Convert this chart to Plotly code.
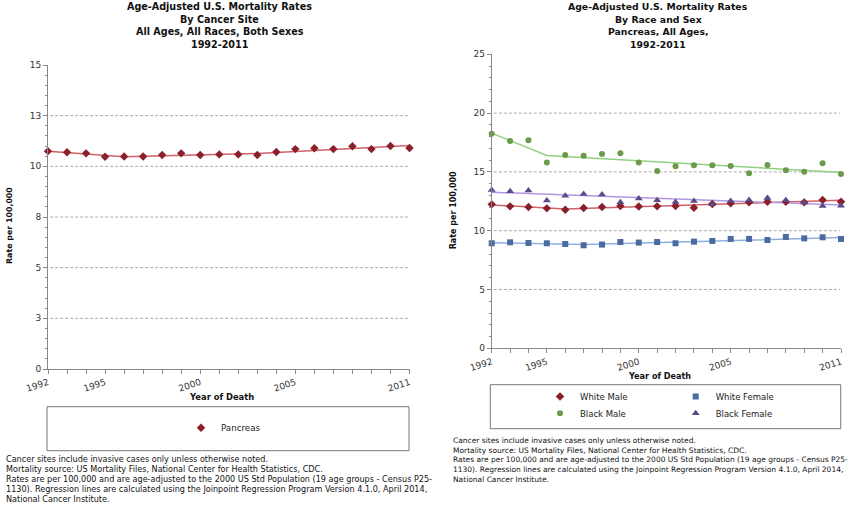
import plotly.graph_objects as go

W, H = 859, 512
FONT = "DejaVu Sans"

years = list(range(1992, 2012))

# Left chart: all races, both sexes, pancreas
pancreas = [10.75, 10.69, 10.64, 10.47, 10.49, 10.49, 10.56, 10.64, 10.56, 10.59,
            10.59, 10.56, 10.71, 10.85, 10.89, 10.85, 10.99, 10.85, 11.00, 10.90]
pancreas_fit_years = [1992, 1996, 2003, 2011]
pancreas_fit = [10.75, 10.47, 10.63, 11.03]

# Right chart: by race and sex
white_male = [12.24, 12.07, 12.02, 11.90, 11.79, 11.93, 12.02, 12.10, 12.05, 12.07,
              12.10, 11.96, 12.27, 12.33, 12.41, 12.47, 12.47, 12.41, 12.61, 12.47]
white_female = [8.93, 9.01, 8.96, 8.93, 8.87, 8.76, 8.82, 9.04, 8.99, 9.04,
                8.93, 9.07, 9.13, 9.30, 9.30, 9.21, 9.47, 9.35, 9.44, 9.30]
black_male = [18.25, 17.63, 17.69, 15.79, 16.44, 16.38, 16.52, 16.58, 15.79, 15.08,
              15.48, 15.56, 15.56, 15.50, 14.88, 15.59, 15.14, 15.02, 15.73, 14.82]
black_female = [13.46, 13.35, 13.41, 12.56, 12.98, 13.12, 13.07, 12.41, 12.73, 12.59,
                12.44, 12.53, 12.24, 12.53, 12.61, 12.78, 12.59, 12.39, 12.10, 12.13]

wm_fit_years, wm_fit = [1992, 1996, 2011], [12.19, 11.85, 12.58]
wf_fit_years, wf_fit = [1992, 1997, 2011], [8.98, 8.82, 9.42]
bm_fit_years, bm_fit = [1992, 1995, 2011], [18.30, 16.40, 14.95]
bf_fit_years, bf_fit = [1992, 2011], [13.27, 12.19]

x_tick_years = [1992, 1995, 2000, 2005, 2011]
left_y_tickvals = [0, 2.5, 5, 7.5, 10, 12.5, 15]
left_y_ticktext = ["0", "3", "5", "8", "10", "13", "15"]
left_grid = [2.5, 5, 7.5, 10, 12.5]
right_y_tickvals = [0, 5, 10, 15, 20, 25]
right_grid = [5, 10, 15, 20]

left_title = ["Age-Adjusted U.S. Mortality Rates", "By Cancer Site",
              "All Ages, All Races, Both Sexes", "1992-2011"]
right_title = ["Age-Adjusted U.S. Mortality Rates", "By Race and Sex",
               "Pancreas, All Ages,", "1992-2011"]
footnote = ["Cancer sites include invasive cases only unless otherwise noted.",
            "Mortality source: US Mortality Files, National Center for Health Statistics, CDC.",
            "Rates are per 100,000 and are age-adjusted to the 2000 US Std Population (19 age groups - Census P25-",
            "1130). Regression lines are calculated using the Joinpoint Regression Program Version 4.1.0, April 2014,",
            "National Cancer Institute."]


def px(x):
    return x / W


def py(y):
    return 1 - y / H


fig = go.Figure()

# left chart traces
fig.add_trace(go.Scatter(x=pancreas_fit_years, y=pancreas_fit, mode="lines",
                         line=dict(color="#d0606a", width=1.5), showlegend=False,
                         xaxis="x", yaxis="y", hoverinfo="skip"))
fig.add_trace(go.Scatter(x=years, y=pancreas, mode="markers", name="Pancreas",
                         marker=dict(symbol="diamond", size=6.5, color="#8b1f2a"),
                         cliponaxis=False, xaxis="x", yaxis="y", legend="legend"))

series = [
    ("White Male", white_male, wm_fit_years, wm_fit, "diamond", 6.5, "#8b1f2a", "#d0606a", "legend2"),
    ("White Female", white_female, wf_fit_years, wf_fit, "square", 6, "#4a6aa0", "#8fb0e0", "legend2"),
    ("Black Male", black_male, bm_fit_years, bm_fit, "circle", 6, "#6a9a4a", "#90d080", "legend3"),
    ("Black Female", black_female, bf_fit_years, bf_fit, "triangle-up", 7, "#5a4a8a", "#b098e0", "legend3"),
]
for name, vals, fy, fv, sym, size, mc, lc, leg in series:
    fig.add_trace(go.Scatter(x=fy, y=fv, mode="lines", line=dict(color=lc, width=1.5),
                             showlegend=False, xaxis="x2", yaxis="y2", hoverinfo="skip"))
for name, vals, fy, fv, sym, size, mc, lc, leg in series:
    fig.add_trace(go.Scatter(x=years, y=vals, mode="markers", name=name,
                             marker=dict(symbol=sym, size=size, color=mc),
                             cliponaxis=False, xaxis="x2", yaxis="y2", legend=leg))

axis_common = dict(showline=True, linecolor="#888", linewidth=1, showgrid=False,
                   zeroline=False, ticks="outside", tickcolor="#888", ticklen=4,
                   tickfont=dict(family=FONT, size=9, color="#333"))

xcommon = dict(axis_common, range=[1992, 2011], tickmode="array", tickvals=x_tick_years,
               ticktext=[str(v) for v in x_tick_years], tickangle=-18,
               minor=dict(ticks="outside", dtick=1, tick0=1992, ticklen=4, tickcolor="#888"))

leg_common = dict(xanchor="left", yanchor="top", borderwidth=0, bgcolor="rgba(0,0,0,0)")

fig.update_layout(
    width=W, height=H, margin=dict(l=0, r=0, t=0, b=0, autoexpand=False),
    paper_bgcolor="white", plot_bgcolor="white",
    font=dict(family=FONT, color="#111"),
    xaxis=dict(xcommon, domain=[px(48), px(409.5)], anchor="y"),
    yaxis=dict(axis_common, domain=[py(369), py(65)], range=[0, 15], tickmode="array",
               tickvals=left_y_tickvals, ticktext=left_y_ticktext, anchor="x",
               minor=dict(ticks="outside", dtick=0.5, ticklen=2, tickcolor="#888")),
    xaxis2=dict(xcommon, domain=[px(491.7), px(841)], anchor="y2"),
    yaxis2=dict(axis_common, domain=[py(348.3), py(54.3)], range=[0, 25], tickmode="array",
                tickvals=right_y_tickvals, ticktext=[str(v) for v in right_y_tickvals], anchor="x2",
                minor=dict(ticks="outside", dtick=1, ticklen=2, tickcolor="#888")),
    legend=dict(leg_common, x=px(181), y=py(413.3),
                font=dict(family=FONT, size=8.7, color="#222")),
    legend2=dict(leg_common, x=px(540), y=py(382), orientation="h", entrywidth=90.7,
                 font=dict(family=FONT, size=8.5, color="#222")),
    legend3=dict(leg_common, x=px(540), y=py(398.7), orientation="h", entrywidth=90.7,
                 font=dict(family=FONT, size=8.5, color="#222")),
)

shapes = []
for g in left_grid:
    shapes.append(dict(type="line", xref="x domain", yref="y", x0=0.006, x1=0.997, y0=g, y1=g,
                       line=dict(color="#aaa", width=1, dash="3px,2px"), layer="below"))
for g in right_grid:
    shapes.append(dict(type="line", xref="x2 domain", yref="y2", x0=0.006, x1=0.997, y0=g, y1=g,
                       line=dict(color="#aaa", width=1, dash="3px,2px"), layer="below"))
# legend boxes
shapes.append(dict(type="rect", xref="paper", yref="paper", x0=px(47), x1=px(409),
                   y0=py(450.7), y1=py(406.7), line=dict(color="#777", width=1)))
shapes.append(dict(type="rect", xref="paper", yref="paper", x0=px(490.3), x1=px(840.7),
                   y0=py(428.7), y1=py(384.7), line=dict(color="#777", width=1)))
fig.update_layout(shapes=shapes)


def text(t, x, y, size, xanchor="center", angle=0):
    return dict(text=t, x=px(x), y=py(y), xref="paper", yref="paper", showarrow=False,
                xanchor=xanchor, yanchor="middle", textangle=angle,
                font=dict(family=FONT, size=size, color="#111"))


ann = []
title_y = [6, 19, 31.5, 44]
for i, t in enumerate(left_title):
    ann.append(text("<b>%s</b>" % t, 219.5, title_y[i], 9.6))
for i, t in enumerate(right_title):
    ann.append(text("<b>%s</b>" % t, 658, title_y[i], 9.3))
# axis titles
ann.append(text("<b>Year of Death</b>", 221, 397.3, 8.4))
ann.append(text("<b>Year of Death</b>", 659, 376, 8.1))
ann.append(text("<b>Rate per 100,000</b>", 9, 226, 7.9, angle=-90))
ann.append(text("<b>Rate per 100,000</b>", 453.3, 210, 8.0, angle=-90))
# footnotes
left_foot_y = [459.3, 469.3, 479.2, 489.1, 499]
right_foot_y = [440, 450, 459.5, 469.3, 479.3]
for i, t in enumerate(footnote):
    ann.append(text(t, 4, left_foot_y[i], 8.1, xanchor="left"))
    ann.append(text(t, 450.7, right_foot_y[i], 7.5, xanchor="left"))
fig.update_layout(annotations=ann)

fig.write_html("out.html", config={"displayModeBar": False},
               post_script="document.body.style.margin='0';")
